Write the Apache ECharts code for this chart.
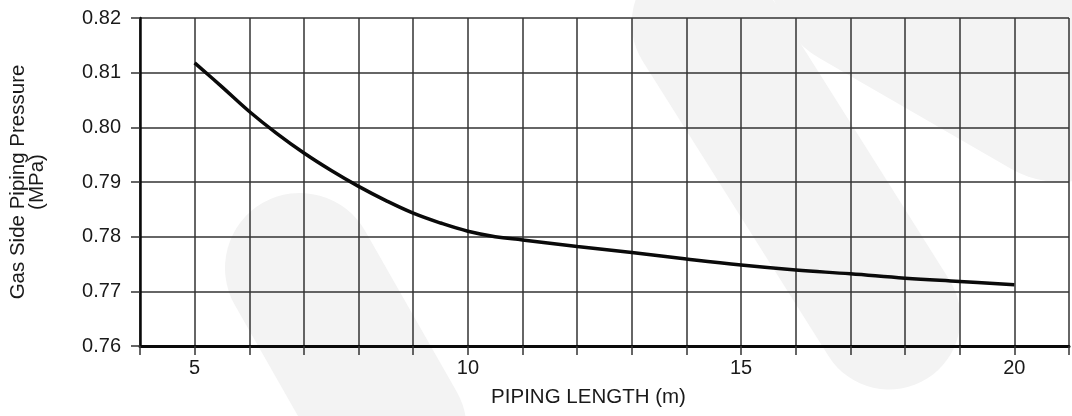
<!DOCTYPE html>
<html>
<head>
<meta charset="utf-8">
<script src="https://cdn.jsdelivr.net/npm/echarts@6/dist/echarts.min.js"></script>
<style>
html,body{margin:0;padding:0;background:#fff;}
#chart{width:1072px;height:416px;}
</style>
</head>
<body>
<div id="chart"></div>
<script>
// ---- data ----
var pipingLength = [5, 5.5, 6, 6.5, 7, 7.5, 8, 8.5, 9, 9.5, 10, 10.5, 11, 12, 13, 14, 15, 16, 17, 18, 19, 20];
var pressure = [0.8118, 0.8074, 0.8029, 0.7989, 0.7953, 0.7921, 0.7892, 0.7866, 0.7843, 0.7825, 0.7810, 0.7800, 0.7794, 0.7782, 0.7771, 0.7759, 0.7748, 0.7739, 0.7732, 0.7724, 0.7718, 0.7712];
var xTickLabels = [5, 10, 15, 20];
var yTickLabels = ['0.76', '0.77', '0.78', '0.79', '0.80', '0.81', '0.82'];
var xName = 'PIPING LENGTH (m)';
var yName = 'Gas Side Piping Pressure\n(MPa)';

var seriesData = pipingLength.map(function (x, i) { return [x, pressure[i]]; });

// faint background watermark bands (decoration)
function band(cx, cy, dx, dy, len, w) {
  var ang = Math.atan2(dy, dx);
  return {
    type: 'rect', z: -10, silent: true,
    x: cx, y: cy, rotation: -ang,
    shape: { x: -w / 2, y: -w / 2, width: len + w / 2, height: w, r: w / 2 },
    style: { fill: '#f3f3f3' }
  };
}

var chart = echarts.init(document.getElementById('chart'), null, { renderer: 'canvas' });
var fontFam = '"Liberation Sans", Arial, Helvetica, sans-serif';
chart.setOption({
  backgroundColor: '#ffffff',
  animation: false,
  graphic: [
    band(300, 268, 0.495, 0.869, 260, 150),
    band(889, 318, -0.533, -0.846, 420, 143),
    band(870, -28, 0.866, 0.5, 320, 200)
  ],
  grid: { left: 137, right: -4, top: 18, bottom: 70, containLabel: false },
  xAxis: {
    type: 'value', min: 4, max: 21, interval: 1,
    name: xName, nameLocation: 'middle', nameGap: 41,
    nameTextStyle: { fontSize: 20.5, color: '#1a1a1a', fontFamily: fontFam, padding: [0, 32, 0, 0] },
    axisLine: { show: true, lineStyle: { color: '#0a0a0a', width: 3 } },
    axisTick: { show: true, length: 9, lineStyle: { color: '#333', width: 1.5 } },
    axisLabel: {
      margin: 12, fontSize: 20, color: '#1a1a1a', fontFamily: fontFam,
      formatter: function (v) { return xTickLabels.indexOf(v) >= 0 ? String(v) : ''; }
    },
    splitLine: { show: true, lineStyle: { color: '#333', width: 1.5 } }
  },
  yAxis: {
    type: 'value', min: 0.76, max: 0.82, interval: 0.01,
    name: yName, nameLocation: 'middle', nameGap: 93,
    nameTextStyle: { fontSize: 20.5, lineHeight: 19, color: '#1a1a1a', fontFamily: fontFam, align: 'center' },
    axisLine: { show: true, lineStyle: { color: '#0a0a0a', width: 2.5 } },
    axisTick: { show: true, length: 9, lineStyle: { color: '#333', width: 1.5 } },
    axisLabel: {
      margin: 19, fontSize: 20, color: '#1a1a1a', fontFamily: fontFam,
      formatter: function (v) {
        var s = v.toFixed(2);
        return yTickLabels.indexOf(s) >= 0 ? s : '';
      }
    },
    splitLine: { show: true, lineStyle: { color: '#333', width: 1.5 } }
  },
  series: [{
    type: 'line',
    data: seriesData,
    smooth: 0.4,
    showSymbol: false,
    symbol: 'none',
    lineStyle: { color: '#0a0a0a', width: 3.5, cap: 'butt' },
    z: 5
  }]
});
</script>
</body>
</html>
